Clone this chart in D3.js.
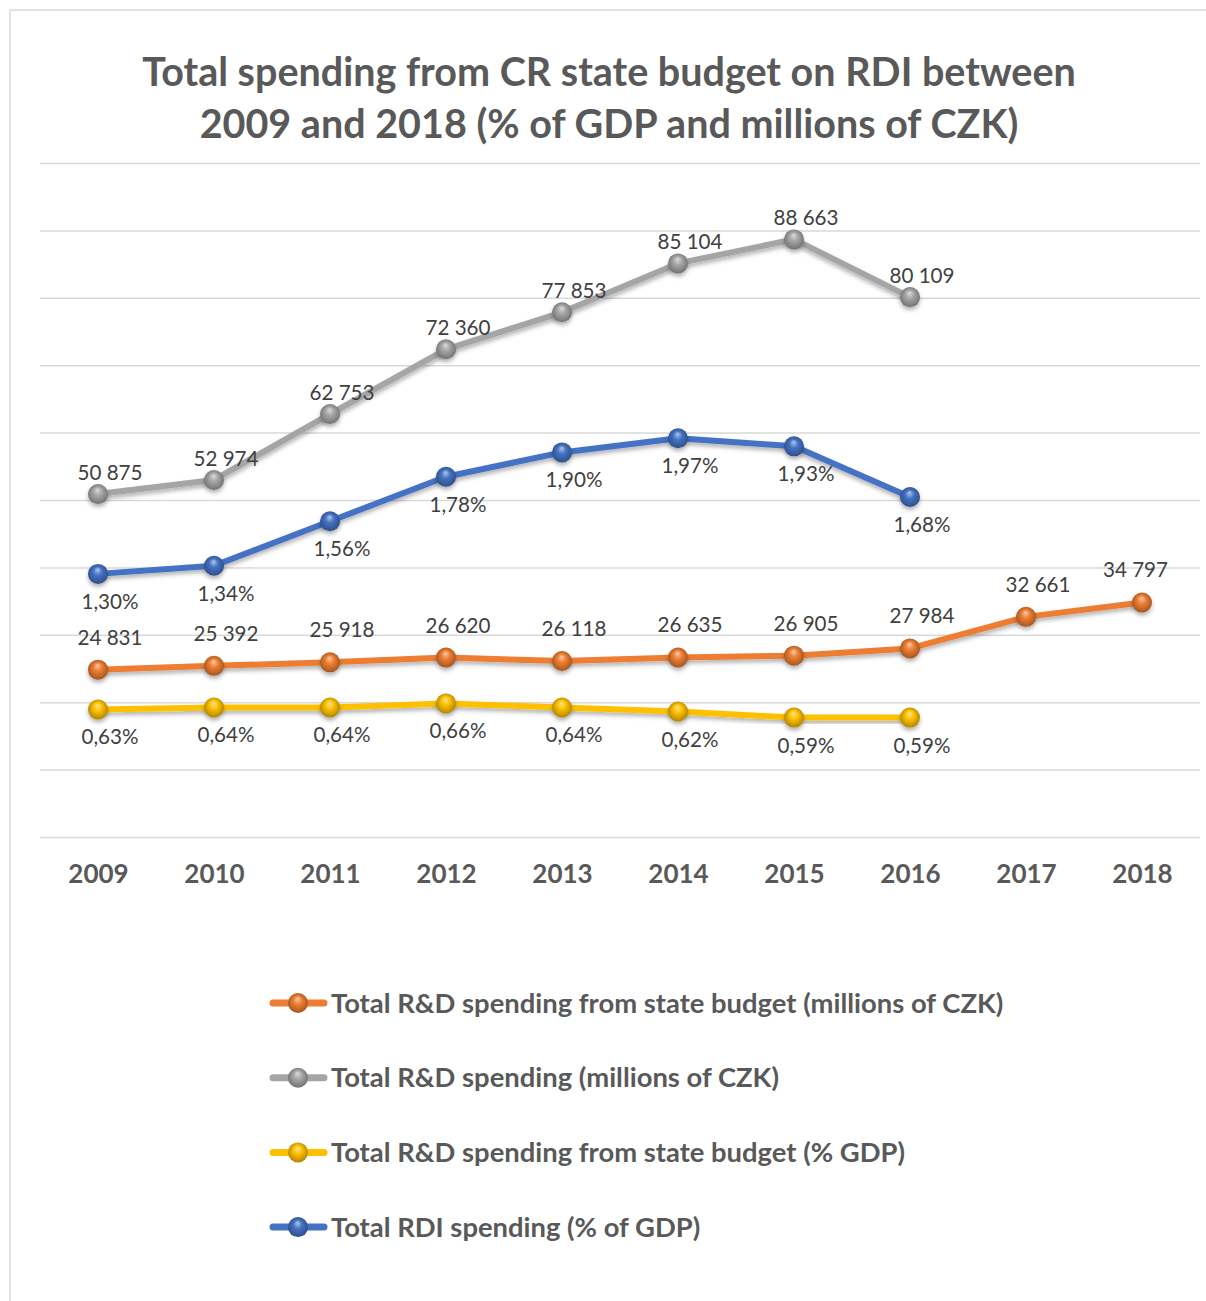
<!DOCTYPE html>
<html>
<head>
<meta charset="utf-8">
<script src="https://cdn.jsdelivr.net/npm/d3@7"></script>
<style>
  body { margin: 0; background: #fff; }
  svg text { font-family: Lato, "Open Sans", sans-serif; }
</style>
</head>
<body>
<svg id="chart" width="1206" height="1301"></svg>
<script>
// ---- data ----
const years = ["2009", "2010", "2011", "2012", "2013", "2014", "2015", "2016", "2017", "2018"];
const stateBudgetCZK = [24831, 25392, 25918, 26620, 26118, 26635, 26905, 27984, 32661, 34797];
const totalCZK = [50875, 52974, 62753, 72360, 77853, 85104, 88663, 80109, null, null];
const stateBudgetGDP = [0.63, 0.64, 0.64, 0.66, 0.64, 0.62, 0.59, 0.59, null, null];
const totalRdiGDP = [1.30, 1.34, 1.56, 1.78, 1.90, 1.97, 1.93, 1.68, null, null];
const millionsTicks = [0, 10000, 20000, 30000, 40000, 50000, 60000, 70000, 80000, 90000, 100000];
const titleLines = [
  "Total spending from CR state budget on RDI between",
  "2009 and 2018 (% of GDP and millions of CZK)"
];
const seriesNames = [
  "Total R&D spending from state budget (millions of CZK)",
  "Total R&D spending (millions of CZK)",
  "Total R&D spending from state budget (% GDP)",
  "Total RDI spending (% of GDP)"
];

// ---- formatting (Czech style: space thousands, comma decimals) ----
const loc = d3.formatLocale({ decimal: ",", thousands: " ", grouping: [3], currency: ["", ""] });
const fmtCZK = loc.format(",.0f");
const fmtPct = v => loc.format(".2f")(v) + "%";

// ---- layout ----
const svg = d3.select("#chart");
const plot = { left: 40, right: 1200, top: 163, bottom: 837 };
const labelColor = "#404040";
const textColor = "#595959";

const x = d3.scalePoint().domain(years).range([plot.left, plot.right]).padding(0.5);
const yMillions = d3.scaleLinear().domain([0, 100000]).range([plot.bottom, plot.top]);
const yPercent = d3.scaleLinear().domain([0, 3.33]).range([plot.bottom, plot.top]);

const series = [
  { name: seriesNames[0], values: stateBudgetCZK, color: "#ED7D31", y: yMillions, fmt: fmtCZK, place: "above", gap: 25 },
  { name: seriesNames[1], values: totalCZK, color: "#A5A5A5", y: yMillions, fmt: fmtCZK, place: "above", gap: 14 },
  { name: seriesNames[2], values: stateBudgetGDP, color: "#FFC000", y: yPercent, fmt: fmtPct, place: "below", gap: 35 },
  { name: seriesNames[3], values: totalRdiGDP, color: "#4472C4", y: yPercent, fmt: fmtPct, place: "below", gap: 35 }
];

// ---- defs: shadow + shaded spheres ----
const defs = svg.append("defs");
const shadow = defs.append("filter").attr("id", "shadow")
  .attr("x", "-20%").attr("y", "-20%").attr("width", "140%").attr("height", "160%");
shadow.append("feDropShadow").attr("dx", 0).attr("dy", 3).attr("stdDeviation", 2.2)
  .attr("flood-color", "#000").attr("flood-opacity", 0.3);

series.forEach((s, i) => {
  s.grad = "sphere" + i;
  const g = defs.append("radialGradient").attr("id", s.grad)
    .attr("cx", "50%").attr("cy", "50%").attr("r", "55%")
    .attr("fx", "48%").attr("fy", "28%");
  const base = d3.color(s.color);
  g.append("stop").attr("offset", "0%").attr("stop-color", d3.interpolateRgb(s.color, "#fff")(0.6));
  g.append("stop").attr("offset", "40%").attr("stop-color", s.color);
  g.append("stop").attr("offset", "80%").attr("stop-color", base.darker(0.7));
  g.append("stop").attr("offset", "100%").attr("stop-color", base.darker(1.3));
});

// ---- frame ----
svg.append("rect")
  .attr("x", 10).attr("y", 10).attr("width", 1220).attr("height", 1320)
  .attr("fill", "none").attr("stroke", "#d9d9d9").attr("stroke-width", 1.5);

// ---- title ----
svg.append("g").selectAll("text").data(titleLines).join("text")
  .attr("x", 609).attr("y", (d, i) => 86 + i * 52)
  .attr("text-anchor", "middle")
  .attr("font-size", 39.5).attr("font-weight", 700).attr("fill", textColor)
  .text(d => d);

// ---- gridlines ----
const grid = svg.append("g").attr("transform", `translate(${plot.left},0)`)
  .call(d3.axisLeft(yMillions).tickValues(millionsTicks).tickSize(-(plot.right - plot.left)).tickFormat(""));
grid.select(".domain").remove();
grid.selectAll("line").attr("stroke", "#d9d9d9").attr("stroke-width", 1.5);

// ---- category axis ----
const xAxis = svg.append("g").attr("transform", `translate(0,${plot.bottom})`)
  .call(d3.axisBottom(x).tickSize(0).tickPadding(28));
xAxis.select(".domain").remove();
xAxis.selectAll("text")
  .attr("font-size", 26).attr("font-weight", 700).attr("fill", textColor)
  .attr("font-family", "Lato, sans-serif");

// ---- lines ----
const lineLayer = svg.append("g");
series.forEach(s => {
  const line = d3.line()
    .defined(d => d != null)
    .x((d, i) => x(years[i]))
    .y(d => s.y(d));
  lineLayer.append("path")
    .datum(s.values)
    .attr("d", line)
    .attr("fill", "none")
    .attr("stroke", s.color)
    .attr("stroke-width", 6)
    .attr("stroke-linejoin", "round")
    .attr("stroke-linecap", "round")
    .attr("filter", "url(#shadow)");
});

// ---- markers ----
series.forEach(s => {
  const pts = s.values.map((v, i) => ({ v, year: years[i] })).filter(d => d.v != null);
  svg.append("g").selectAll("circle").data(pts).join("circle")
    .attr("cx", d => x(d.year))
    .attr("cy", d => s.y(d.v))
    .attr("r", 10)
    .attr("fill", `url(#${s.grad})`)
    .attr("filter", "url(#shadow)");
});

// ---- data labels ----
const labelRightLimit = 1168;
series.forEach(s => {
  const pts = s.values.map((v, i) => ({ v, year: years[i] })).filter(d => d.v != null);
  const lbl = svg.append("g").selectAll("text").data(pts).join("text")
    .attr("text-anchor", "middle")
    .attr("font-size", 20.6).attr("fill", labelColor)
    .attr("y", d => s.y(d.v) + (s.place === "above" ? -s.gap : s.gap))
    .text(d => s.fmt(d.v));
  lbl.attr("x", function (d) {
    const w = this.getComputedTextLength();
    const cx = x(d.year) + 12;
    return Math.min(cx, labelRightLimit - w / 2);
  });
});

// ---- legend ----
const legend = svg.append("g");
series.forEach((s, i) => {
  const row = legend.append("g").attr("transform", `translate(0,${1003 + i * 74.7})`);
  row.append("line")
    .attr("x1", 273).attr("x2", 324).attr("y1", 0).attr("y2", 0)
    .attr("stroke", s.color).attr("stroke-width", 7).attr("stroke-linecap", "round");
  row.append("circle").attr("cx", 298).attr("cy", 0).attr("r", 10)
    .attr("fill", `url(#${s.grad})`);
  row.append("text")
    .attr("x", 331).attr("y", 0).attr("dy", "0.35em")
    .attr("font-size", 27.4).attr("font-weight", 700).attr("fill", textColor)
    .text(s.name);
});
</script>
</body>
</html>
